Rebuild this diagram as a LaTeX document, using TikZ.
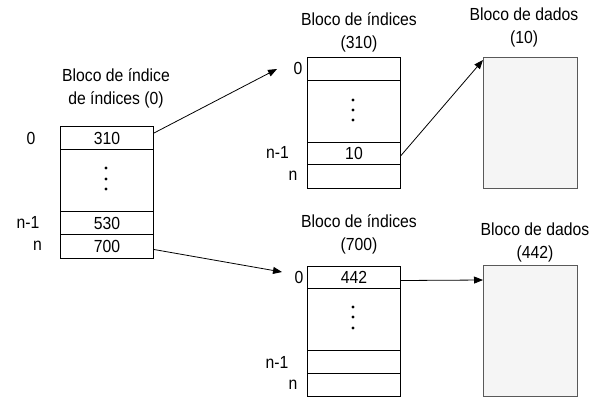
\documentclass[tikz,border=0pt]{standalone}
\usepackage{fontspec}
\setmainfont[FakeStretch=0.9]{Liberation Sans}
\usetikzlibrary{arrows.meta}
\begin{document}
\begin{tikzpicture}[x=1pt,y=-1pt,
  every node/.style={font=\fontsize{17.5}{23}\selectfont, inner sep=0pt},
  cell/.style={draw, line width=1pt, minimum width=93pt, minimum height=#1, anchor=north west},
  data/.style={draw=black!65, fill=black!4, line width=1pt, minimum width=94pt, minimum height=131pt, anchor=north west},
  title/.style={align=center},
  dot/.style={fill=black, circle, minimum size=3.2pt},
  link/.style={line width=0.8pt, -{Triangle[length=9pt,width=7pt]}}
]
\useasboundingbox (0,0) rectangle (601,397);

% index block of index blocks (0)
\node[title] (Lt) at (116,88) {Bloco de índice\\de índices (0)};
\node[cell=23pt] (L0) at (60,126) {310};
\node[cell=62pt] (Ld) at (60,149) {};
\node[cell=23pt] (Ln1) at (60,211) {530};
\node[cell=24pt] (Ln) at (60,234) {700};
\foreach \y in {168,179,189} \node[dot] at (106,\y) {};
\node (Ll0) at (31,138) {0};
\node (Lln1) at (28,222) {n-1};
\node (Lln) at (37.5,246) {n};

% index block (310)
\node[title] (Tt) at (359,32) {Bloco de índices\\(310)};
\node[cell=23pt] (T0) at (307,57) {};
\node[cell=62pt] (Td) at (307,80) {};
\node[cell=22pt] (Tn1) at (307,142) {10};
\node[cell=24pt] (Tn) at (307,164) {};
\foreach \y in {100,110,120} \node[dot] at (353,\y) {};
\node (Tl0) at (298,68) {0};
\node (Tln1) at (277.5,152) {n-1};
\node (Tln) at (293,176) {n};

% index block (700)
\node[title] (Bt) at (359,234) {Bloco de índices\\(700)};
\node[cell=22pt] (B0) at (307,266) {442};
\node[cell=62pt] (Bd) at (307,288) {};
\node[cell=23pt] (Bn1) at (307,350) {};
\node[cell=23pt] (Bn) at (307,373) {};
\foreach \y in {307,317,328} \node[dot] at (353,\y) {};
\node (Bl0) at (299,277) {0};
\node (Bln1) at (277,362) {n-1};
\node (Bln) at (293,385) {n};

% data blocks
\node[title] (D1t) at (524,27) {Bloco de dados\\(10)};
\node[data] (D1) at (483,57) {};
\node[title] (D2t) at (535,242) {Bloco de dados\\(442)};
\node[data] (D2) at (483,265) {};

% pointers
\coordinate (A1) at (277,69);
\coordinate (A2) at (282,272);
\draw[link] ([yshift=5pt]L0.east) -- (A1);
\draw[link] ([yshift=-3pt]Ln.east) -- (A2);
\draw[link] ([yshift=-2pt]Tn1.east) -- ([yshift=-3pt]D1.north west);
\draw[link] ([yshift=-3pt]B0.east) -- ([yshift=-15pt]D2.north west);
\end{tikzpicture}
\end{document}
